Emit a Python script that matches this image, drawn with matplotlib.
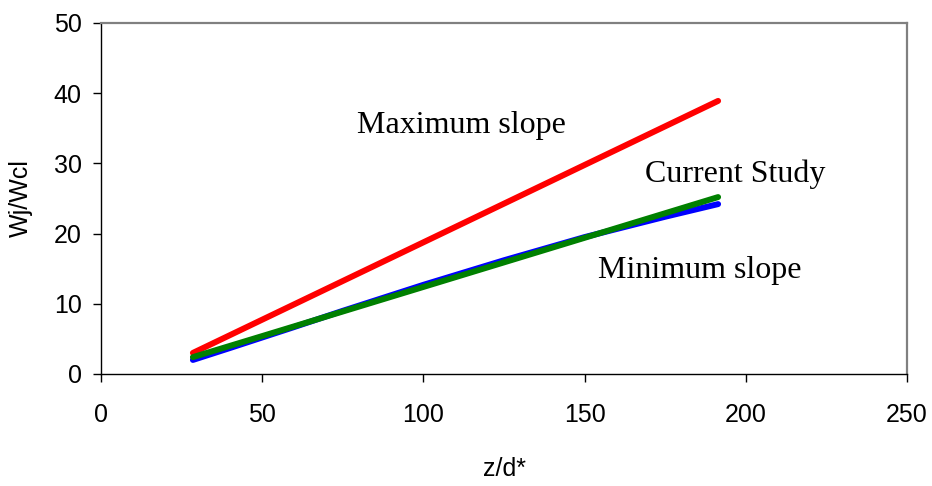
import matplotlib
matplotlib.use('Agg')
import matplotlib.pyplot as plt

# values
max_x = [28.5, 191.4]
max_y = [3.0, 38.9]

min_x = [28.5, 40, 50, 60, 75, 100, 125, 150, 175, 191.4]
min_y = [2.0, 3.7, 5.2, 6.7, 9.0, 12.7, 16.2, 19.5, 22.4, 24.2]

cur_x = [28.5, 50, 75, 100, 125, 150, 175, 191.4]
cur_y = [2.4, 5.4, 8.9, 12.4, 15.9, 19.4, 22.9, 25.2]

x_ticks = [0, 50, 100, 150, 200, 250]
y_ticks = [0, 10, 20, 30, 40, 50]

plt.rcParams['font.family'] = ['Liberation Sans', 'DejaVu Sans']

fig = plt.figure(figsize=(9.32, 4.86), dpi=100)
ax = fig.add_axes([0.1084, 0.2305, 0.8648, 0.7222])

lw = 4.3
ax.plot(max_x, max_y, color='#ff0000', lw=lw, solid_capstyle='round')
ax.plot(min_x, min_y, color='#0000ff', lw=lw, solid_capstyle='round',
        solid_joinstyle='round')
ax.plot(cur_x, cur_y, color='#008000', lw=lw, solid_capstyle='round',
        solid_joinstyle='round')

serif = ['Liberation Serif', 'DejaVu Serif']
ax.text(79.4, 35.4, 'Maximum slope', family=serif, fontsize=23, ha='left', va='center')
ax.text(168.7, 28.5, 'Current Study', family=serif, fontsize=23, ha='left', va='center')
ax.text(154.2, 14.8, 'Minimum slope', family=serif, fontsize=23, ha='left', va='center')

ax.set_xlim(0, 250)
ax.set_ylim(0, 50)
ax.set_xticks(x_ticks)
ax.set_yticks(y_ticks)
ax.tick_params(axis='x', direction='out', length=6, width=1, pad=15, labelsize=18)
ax.tick_params(axis='y', direction='out', length=6, width=1, pad=8, labelsize=18)

ax.set_xlabel('z/d*', fontsize=18)
ax.set_ylabel('Wj/Wcl', fontsize=18)
ax.xaxis.set_label_coords(0.5, -0.236)
ax.yaxis.set_label_coords(-0.084, 0.5)

for s in ['left', 'bottom']:
    ax.spines[s].set_color('black')
    ax.spines[s].set_linewidth(1.0)
for s in ['top', 'right']:
    ax.spines[s].set_color('#808080')
    ax.spines[s].set_linewidth(1.6)

fig.savefig('out.png', dpi=100)
